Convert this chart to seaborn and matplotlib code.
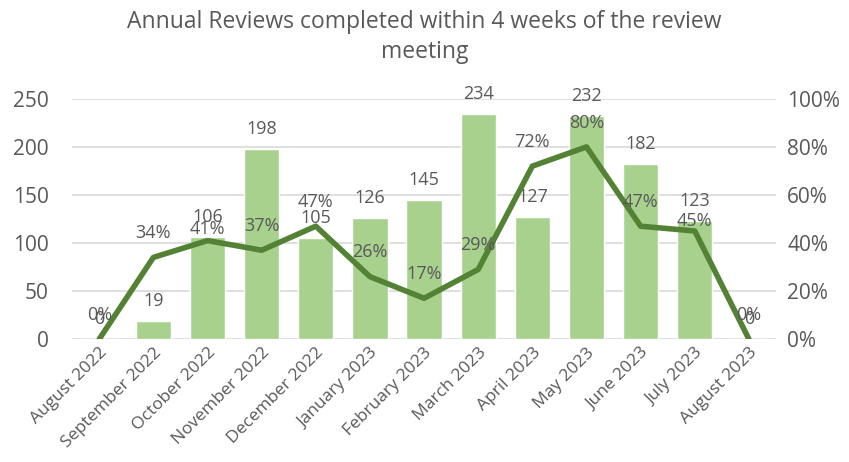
import numpy as np
import matplotlib.pyplot as plt
import pandas as pd
import seaborn as sns

MONTHS = ["August 2022", "September 2022", "October 2022", "November 2022",
          "December 2022", "January 2023", "February 2023", "March 2023",
          "April 2023", "May 2023", "June 2023", "July 2023", "August 2023"]
COMPLETED = [0, 19, 106, 198, 105, 126, 145, 234, 127, 232, 182, 123, 0]
PCT_WITHIN_4W = [0, 34, 41, 37, 47, 26, 17, 29, 72, 80, 47, 45, 0]

BAR_COLOR = "#A9D18E"
LINE_COLOR = "#548235"
TEXT_COLOR = "#595959"
GRID_COLOR = "#D9D9D9"

sns.set_style("white")
plt.rcParams["font.family"] = ["Open Sans", "DejaVu Sans"]

df = pd.DataFrame({"month": MONTHS, "count": COMPLETED, "pct": PCT_WITHIN_4W})

fig = plt.figure(figsize=(8.49, 4.62), dpi=100)
ax = fig.add_axes([0.085, 0.266, 0.829, 0.52])

sns.barplot(data=df, x="month", y="count", color=BAR_COLOR, width=0.65,
            saturation=1, ax=ax, zorder=2)
ax.set_ylim(0, 250)
ax.set_yticks(range(0, 251, 50))
ax.set_xlim(-0.5, len(MONTHS) - 0.5)
ax.grid(axis="y", color=GRID_COLOR, linewidth=1.2, zorder=0)
ax.set_axisbelow(True)
for s in ax.spines.values():
    s.set_visible(False)
ax.set_xlabel("")
ax.set_ylabel("")
ax.tick_params(axis="y", length=0, pad=17, labelsize=15, labelcolor=TEXT_COLOR)
ax.tick_params(axis="x", length=0, pad=4, labelsize=12.5, labelcolor=TEXT_COLOR)
for lab in ax.get_xticklabels():
    lab.set_rotation(45)
    lab.set_ha("right")
    lab.set_rotation_mode("anchor")

# bar value labels
for i, v in enumerate(COMPLETED):
    ax.annotate(str(v), (i, v), xytext=(0, 8), textcoords="offset points",
                ha="center", va="bottom", fontsize=13, color=TEXT_COLOR)

ax2 = ax.twinx()
x = np.arange(len(MONTHS))
sns.lineplot(x=x, y=df["pct"], color=LINE_COLOR, linewidth=4, ax=ax2,
             zorder=3)
ax2.set_ylim(0, 100)
ax2.set_yticks(range(0, 101, 20))
ax2.set_yticklabels([f"{t}%" for t in range(0, 101, 20)])
ax2.set_xlim(-0.5, len(MONTHS) - 0.5)
for s in ax2.spines.values():
    s.set_visible(False)
ax2.set_ylabel("")
ax2.tick_params(axis="y", length=0, pad=8, labelsize=15, labelcolor=TEXT_COLOR)

# line labels (October and July labels sit lower in the original)
offsets = {2: 2, 11: 1}
for i, p in enumerate(PCT_WITHIN_4W):
    ax2.annotate(f"{p}%", (i, p), xytext=(0, offsets.get(i, 11)),
                 textcoords="offset points", ha="center", va="bottom",
                 fontsize=13, color=TEXT_COLOR)

fig.text(0.5, 0.978, "Annual Reviews completed within 4 weeks of the review\nmeeting",
         ha="center", va="top", fontsize=16.5, color=TEXT_COLOR, linespacing=1.3)

fig.savefig("out.png", dpi=100)
